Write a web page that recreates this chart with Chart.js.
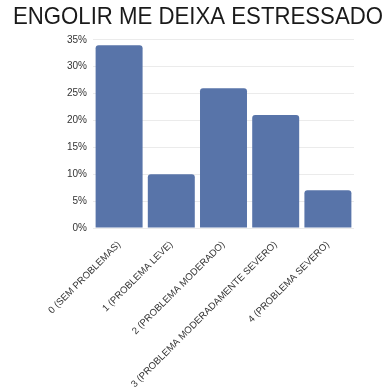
<!DOCTYPE html>
<html>
<head>
<meta charset="utf-8">
<script src="https://cdn.jsdelivr.net/npm/chart.js@4"></script>
<style>
html,body{margin:0;padding:0;background:#fff;}
#wrap{width:387px;height:391px;}
</style>
</head>
<body>
<div id="wrap"><canvas id="stressChart"></canvas></div>
<script>
const categories=[
    "0 (SEM PROBLEMAS)",
    "1 (PROBLEMA LEVE)",
    "2 (PROBLEMA MODERADO)",
    "3 (PROBLEMA MODERADAMENTE SEVERO)",
    "4 (PROBLEMA SEVERO)"
];
const percentages=[34,10,26,21,7];
const yTicks=[0,5,10,15,20,25,30,35];

Chart.defaults.font.family="'Liberation Sans', Arial, sans-serif";

new Chart(document.getElementById("stressChart"),{
    type:"bar",
    data:{
        labels:categories,
        datasets:[{
            data:percentages,
            backgroundColor:"#5874a9",
            borderRadius:{topLeft:3,topRight:3},
            borderSkipped:"bottom",
            barPercentage:0.9,
            categoryPercentage:1
        }]
    },
    options:{
        responsive:true,
        maintainAspectRatio:false,
        animation:false,
        // narrow side padding so the title can run almost edge to edge
        layout:{padding:{left:13,right:4,top:0,bottom:0}},
        plugins:{
            legend:{display:false},
            tooltip:{enabled:false},
            title:{
                display:true,
                text:"ENGOLIR ME DEIXA ESTRESSADO",
                color:"#1a1a1a",
                font:{size:24,weight:"normal"},
                padding:{top:3,bottom:8}
            }
        },
        scales:{
            x:{
                grid:{display:false},
                border:{display:false},
                afterFit:axis=>{axis.height=163;},
                ticks:{
                    color:"#333",
                    font:{size:9.6},
                    maxRotation:45,
                    minRotation:45,
                    padding:3
                }
            },
            y:{
                min:0,
                max:35,
                afterBuildTicks:axis=>{axis.ticks=yTicks.map(v=>({value:v}));},
                afterFit:axis=>{axis.width=80;},
                grid:{color:"#ebebeb",drawTicks:false},
                border:{display:false},
                ticks:{
                    color:"#333",
                    font:{size:10},
                    padding:6,
                    callback:v=>v+"%"
                }
            },
            // empty right-hand axis, only reserves space to the right of the bars
            yRight:{
                type:"linear",
                position:"right",
                grid:{display:false},
                border:{display:false},
                ticks:{display:false},
                afterFit:axis=>{axis.width=29;}
            }
        }
    }
});
</script>
</body>
</html>
